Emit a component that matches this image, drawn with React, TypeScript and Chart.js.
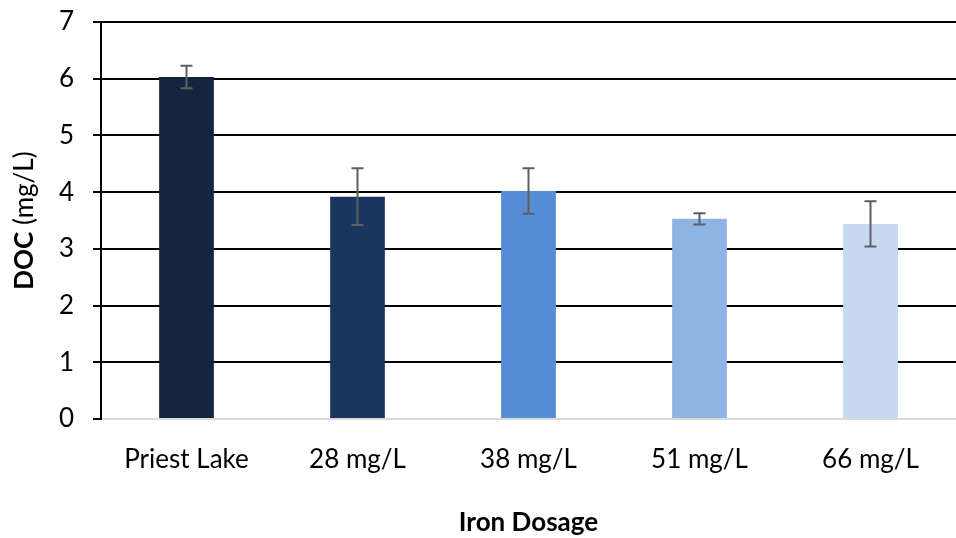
import React, { useEffect, useRef } from "react";
import { Chart, registerables } from "chart.js";

Chart.register(...registerables);

const categories = ["Priest Lake", "28 mg/L", "38 mg/L", "51 mg/L", "66 mg/L"];
const docValues = [6.03, 3.92, 4.02, 3.53, 3.44];
const docErrors = [0.2, 0.5, 0.4, 0.1, 0.4];
const barColors = ["#14263f", "#19375e", "#558ed5", "#8eb4e3", "#c6d9f1"];
const yTitleBold = "DOC";
const yTitleRest = " (mg/L)";
const xTitle = "Iron Dosage";

const FONT = "Lato, 'Open Sans', sans-serif";
const FS = 26;

const errorBarPlugin = {
  id: "errorBars",
  afterDatasetsDraw(chart: any) {
    const ctx = chart.ctx;
    const meta = chart.getDatasetMeta(0);
    const y = chart.scales.y;
    ctx.save();
    ctx.strokeStyle = "#5f5f5f";
    ctx.lineWidth = 2;
    meta.data.forEach((bar: any, i: number) => {
      const v = docValues[i];
      const e = docErrors[i];
      const yTop = y.getPixelForValue(v + e);
      const yBot = y.getPixelForValue(v - e);
      const x = bar.x;
      ctx.beginPath();
      ctx.moveTo(x, yTop);
      ctx.lineTo(x, yBot);
      ctx.moveTo(x - 6, yTop);
      ctx.lineTo(x + 6, yTop);
      ctx.moveTo(x - 6, yBot);
      ctx.lineTo(x + 6, yBot);
      ctx.stroke();
    });
    ctx.restore();
  },
};

const yTitlePlugin = {
  id: "yTitleMixed",
  afterDraw(chart: any) {
    const ctx = chart.ctx;
    const area = chart.chartArea;
    const cy = (area.top + area.bottom) / 2;
    const cx = 25;
    ctx.save();
    ctx.translate(cx, cy);
    ctx.rotate(-Math.PI / 2);
    ctx.textBaseline = "middle";
    ctx.fillStyle = "#000000";
    ctx.font = `bold ${FS}px ${FONT}`;
    const w1 = ctx.measureText(yTitleBold).width;
    ctx.font = `${FS}px ${FONT}`;
    const w2 = ctx.measureText(yTitleRest).width;
    const x0 = -(w1 + w2) / 2;
    ctx.textAlign = "left";
    ctx.font = `bold ${FS}px ${FONT}`;
    ctx.fillText(yTitleBold, x0, 0);
    ctx.font = `${FS}px ${FONT}`;
    ctx.fillText(yTitleRest, x0 + w1, 0);
    ctx.restore();
  },
};

export default function App() {
  const ref = useRef<HTMLCanvasElement>(null);
  useEffect(() => {
    document.body.style.margin = "0";
    const chart = new Chart(ref.current!, {
      type: "bar",
      data: {
        labels: categories,
        datasets: [
          {
            data: docValues,
            backgroundColor: barColors,
            categoryPercentage: 1,
            barPercentage: 0.32,
          },
        ],
      },
      options: {
        animation: false,
        responsive: false,
        devicePixelRatio: 1,
        layout: { padding: { left: 8, right: 0, top: 22, bottom: 0 } },
        plugins: {
          legend: { display: false },
          tooltip: { enabled: false },
        },
        scales: {
          x: {
            grid: { display: false, drawTicks: false, tickLength: 0 },
            border: { display: true, color: "#d9d9d9", width: 2 },
            ticks: {
              color: "#000000",
              font: { family: FONT, size: FS },
              padding: 25,
              maxRotation: 0,
            },
            title: {
              display: true,
              text: xTitle,
              color: "#000000",
              font: { family: FONT, size: FS, weight: "bold" },
              padding: { top: 0, bottom: 0 },
            },
            afterFit(scale: any) {
              scale.height = 119;
              scale.paddingLeft = 0;
              scale.paddingRight = 0;
            },
          },
          y: {
            min: 0,
            max: 7,
            ticks: {
              stepSize: 1,
              color: "#000000",
              font: { family: FONT, size: FS },
              padding: 19,
            },
            grid: {
              color: (c: any) => (c.tick && c.tick.value === 0 ? "#d9d9d9" : "#000000"),
              lineWidth: 2,
              tickLength: 8,
              tickColor: "#000000",
            },
            border: { display: true, color: "#000000", width: 2 },
            afterFit(scale: any) {
              scale.width = 93;
              scale.paddingTop = 0;
              scale.paddingBottom = 0;
            },
          },
        },
      },
      plugins: [errorBarPlugin, yTitlePlugin],
    });
    return () => chart.destroy();
  }, []);
  return <canvas ref={ref} width={956} height={538} style={{ display: "block" }} />;
}
